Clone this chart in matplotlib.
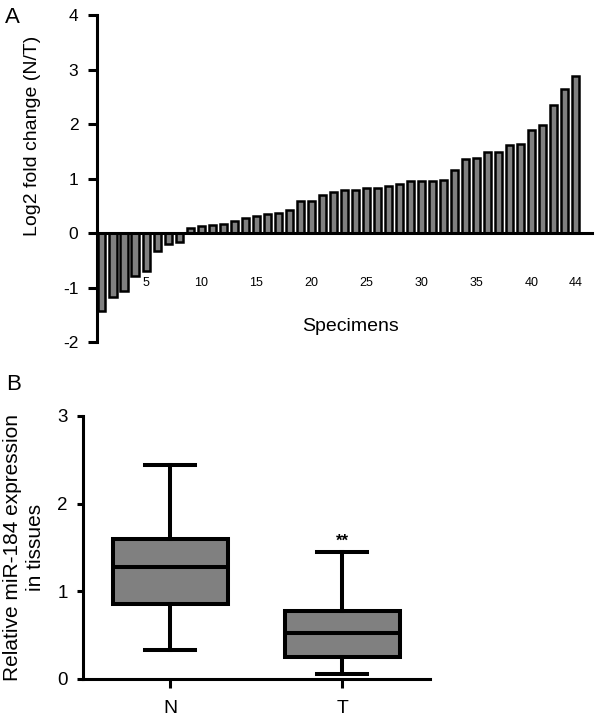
import numpy as np
import matplotlib
matplotlib.use("Agg")
import matplotlib.pyplot as plt

plt.rcParams['font.family'] = ['Liberation Sans', 'DejaVu Sans']
plt.rcParams['axes.unicode_minus'] = False

# Panel A: log2 fold change per specimen (sorted)
specimens = np.arange(1, 45)
log2_fc = [-1.44, -1.18, -1.06, -0.78, -0.70, -0.33, -0.21, -0.17, 0.10, 0.12,
           0.15, 0.17, 0.22, 0.27, 0.31, 0.35, 0.36, 0.42, 0.58, 0.59,
           0.70, 0.76, 0.79, 0.79, 0.82, 0.83, 0.86, 0.90, 0.95, 0.96,
           0.96, 0.98, 1.15, 1.36, 1.37, 1.49, 1.49, 1.61, 1.64, 1.89,
           1.98, 2.35, 2.65, 2.88]
a_xticks = [5, 10, 15, 20, 25, 30, 35, 40, 44]

# Panel B: box plot summary (whisker low, Q1, median, Q3, whisker high)
groups = ['N', 'T']
whislo = [0.33, 0.06]
q1 = [0.85, 0.25]
med = [1.28, 0.52]
q3 = [1.60, 0.78]
whishi = [2.44, 1.45]

gray = '#808080'

fig = plt.figure(figsize=(6, 7.22), dpi=100)

# ---- Panel A ----
ax = fig.add_axes([0.1617, 0.5263, 0.825, 0.4529])
ax.bar(specimens, log2_fc, width=0.64, color=gray, edgecolor='black', linewidth=1.8)
ax.set_xlim(0.55, 45.5)
ax.set_ylim(-2, 4)
ax.set_yticks(range(-2, 5))
ax.spines['top'].set_visible(False)
ax.spines['right'].set_visible(False)
ax.spines['bottom'].set_position(('data', 0))
ax.spines['left'].set_linewidth(2.2)
ax.spines['bottom'].set_linewidth(2.2)
ax.set_xticks(a_xticks)
ax.set_xticklabels([str(t) for t in a_xticks])
ax.tick_params(axis='x', length=0, pad=32, labelsize=9)
ax.tick_params(axis='y', direction='out', length=6.5, width=2.2, pad=7, labelsize=12.5)
ax.set_ylabel('Log2 fold change (N/T)', fontsize=14)
ax.yaxis.set_label_coords(-0.113, 0.63)
ax.set_xlabel('Specimens', fontsize=14)
ax.xaxis.set_label_coords(0.513, 0.073)

# ---- Panel B ----
bx = fig.add_axes([0.138, 0.0596, 0.5783, 0.3643])
stats = []
for i, g in enumerate(groups):
    stats.append(dict(label=g, whislo=whislo[i], q1=q1[i], med=med[i],
                      q3=q3[i], whishi=whishi[i], fliers=[]))
bx.bxp(stats, positions=[1, 2], widths=0.67, capwidths=0.29,
       showfliers=False, patch_artist=True,
       boxprops=dict(facecolor=gray, edgecolor='black', linewidth=2.9),
       medianprops=dict(color='black', linewidth=2.9),
       whiskerprops=dict(color='black', linewidth=2.9),
       capprops=dict(color='black', linewidth=2.9))
bx.set_xlim(0.49, 2.51)
bx.set_ylim(0, 3)
bx.set_yticks([0, 1, 2, 3])
bx.spines['top'].set_visible(False)
bx.spines['right'].set_visible(False)
bx.spines['left'].set_linewidth(2.2)
bx.spines['bottom'].set_linewidth(2.2)
bx.tick_params(axis='y', direction='out', length=4, width=2.2, pad=7, labelsize=13.5)
bx.tick_params(axis='x', direction='out', length=6.5, width=2.2, pad=9, labelsize=14)
bx.set_ylabel('Relative miR-184 expression\nin tissues', fontsize=15, linespacing=1.25)
bx.yaxis.set_label_coords(-0.11, 0.5)
bx.text(2, whishi[1] + 0.03, '**', ha='center', va='bottom', fontsize=12, fontweight='bold')

fig.text(0.02, 0.976, 'A', fontsize=16, ha='center', va='center')
fig.text(0.022, 0.467, 'B', fontsize=16, ha='center', va='center')

fig.savefig('out.png', dpi=100)
